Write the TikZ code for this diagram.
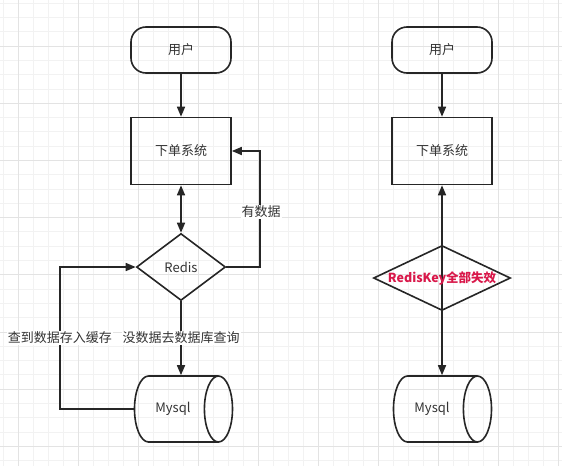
\documentclass[tikz,border=0pt]{standalone}
\usepackage{fontspec}
\newfontfamily\cjk{Noto Sans CJK SC}
\usetikzlibrary{shapes.geometric,arrows.meta}
\definecolor{keyred}{HTML}{D9184A}
\begin{document}
\begin{tikzpicture}[x=1pt,y=-1pt,
	every node/.style={font=\cjk\fontsize{13}{15}\selectfont, text=black!80},
	minor/.style={gray!10, line width=0.5pt},
	major/.style={gray!22, line width=0.6pt},
	user/.style={draw=black!85, line width=1.6pt, rounded corners=15pt, minimum width=100pt, minimum height=46pt},
	sysbox/.style={draw=black!85, line width=1.6pt, minimum width=100pt, minimum height=67pt},
	check/.style={diamond, draw=black!85, line width=1.6pt, inner sep=0pt, minimum width=89pt, minimum height=67pt},
	db/.style={cylinder, draw=black!85, line width=1.6pt, shape aspect=1.4, minimum width=66pt, minimum height=98pt},
	line/.style={draw=black!85, line width=1.6pt, -{Triangle[length=10pt,width=8pt]}},
	both/.style={line, {Triangle[length=10pt,width=8pt]}-{Triangle[length=10pt,width=8pt]}},
	tag/.style={fill=white, inner sep=1pt}
]
\useasboundingbox (0,0) rectangle (562,466);

% background grid
\fill[white] (0,0) rectangle (562,466);
\foreach \x in {3,18,...,561} \draw[minor] (\x,0) -- (\x,466);
\foreach \i in {0,...,32} \draw[minor] (0,{3.1+14.29*\i}) -- (562,{3.1+14.29*\i});
\foreach \x in {18,78,...,558} \draw[major] (\x,0) -- (\x,466);
\foreach \i in {0,...,8} \draw[major] (0,{46+57.17*\i}) -- (562,{46+57.17*\i});

% left: normal flow
\node[user] (user) at (181,50) {用户};
\node[sysbox] (sys) at (181,151) {下单系统};
\node[check] (redis) at (181,267) {Redis};
\node[db] (db) at (173,409) {Mysql};

\coordinate (rturn) at (260,151);
\coordinate (lturn) at (60,409);

\draw[line] (user) -- (sys);
\draw[both] (sys) -- (redis);
\draw[line] (redis.east) -| (rturn) -- (sys.east);
\draw[line] (redis) -- (db.north -| redis);
\draw[line] (db.west) -- (lturn) |- (redis.west);

% labels
\node[tag] (hit) at (261,212) {有数据};
\node[tag] (miss) at (181,338) {没数据去数据库查询};
\node[tag] (save) at (60,338) {查到数据存入缓存};

% right: all keys expired
\node[user] (user2) at (442,50) {用户};
\node[sysbox] (sys2) at (442,151) {下单系统};
\node[db] (db2) at (432,409) {Mysql};

\draw[line] (user2) -- (sys2);
\draw[both] (sys2) -- (db2.north -| sys2);

\node[check, minimum width=137pt, minimum height=65pt,
	label={[text=keyred, font=\cjk\bfseries\fontsize{12.5}{14}\selectfont]center:RedisKey全部失效}] (fail) at (442,278) {};
\end{tikzpicture}
\end{document}
